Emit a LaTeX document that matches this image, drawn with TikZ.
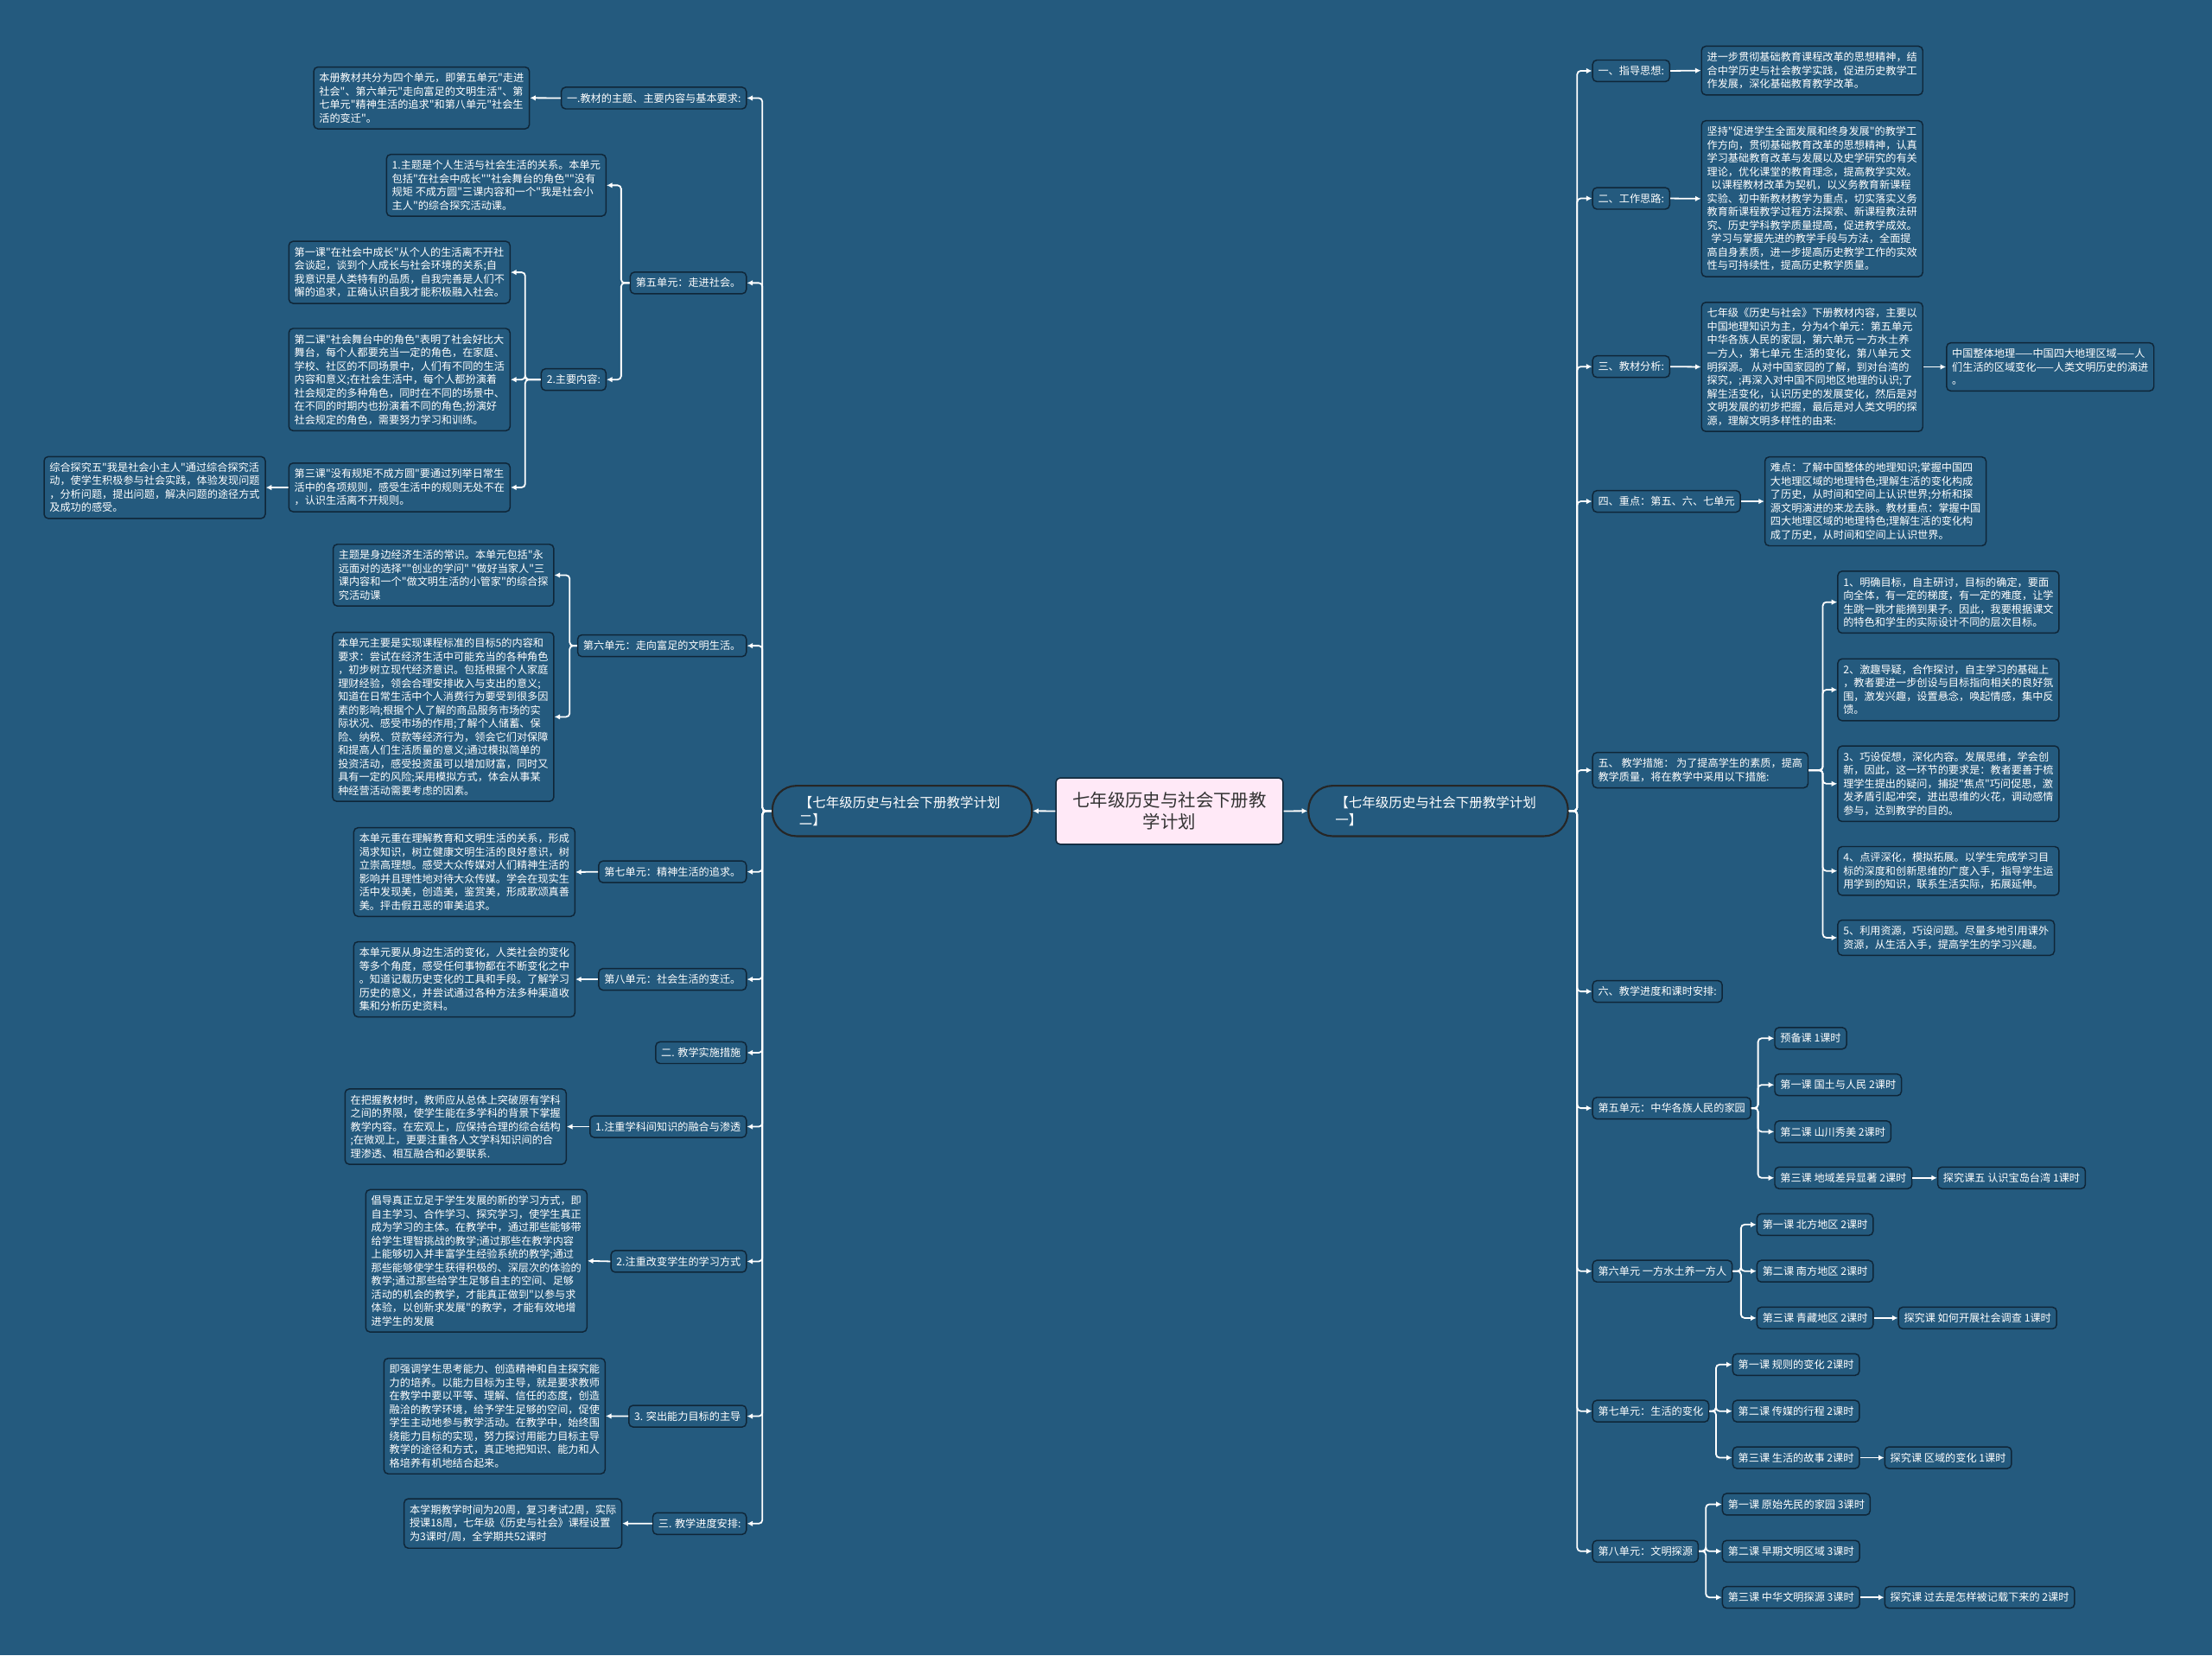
\documentclass[tikz,border=0pt]{standalone}
\usepackage{fontspec}
\newfontfamily\cjk{Noto Sans CJK SC}
\usetikzlibrary{arrows.meta}
\definecolor{bg}{HTML}{245A7E}
\definecolor{bdr}{HTML}{0F2638}
\definecolor{cpink}{HTML}{FFE9F7}
\definecolor{ctext}{HTML}{333333}
\begin{document}
\begin{tikzpicture}[x=1pt,y=1pt,
 box/.style={draw=bdr, line width=0.9pt, rounded corners=3pt, fill=bg, text=white,
   font=\cjk\fontsize{7.45}{9.5}\selectfont, align=left, inner xsep=3.9pt, inner ysep=4.2pt},
 lb/.style={box, anchor=east},
 rb/.style={box, anchor=west},
 mainbox/.style={draw=black!85, line width=1.3pt, rounded corners=17pt, fill=bg, text=white,
   font=\cjk\fontsize{9.5}{12.2}\selectfont, align=left, text width=146pt,
   minimum height=35.7pt, inner xsep=19pt},
 conn/.style={draw=white, line width=1.1pt, rounded corners=2.5pt},
 arr/.style={conn, -{Latex[length=4pt,width=4pt]}}]
\fill[bg] (0,0) rectangle (1568,-1173);
\useasboundingbox (0,0) rectangle (1568,-1173);

% ---------- centre ----------
\node[draw=bdr, line width=0.9pt, rounded corners=3pt, fill=cpink, text=ctext,
  font=\cjk\fontsize{12.5}{15.3}\selectfont, align=center, minimum width=161pt,
  minimum height=47pt, inner sep=2pt] (C) at (829,-574.8) {七年级历史与社会下册教\\学计划};
\node[mainbox] (LM) at (639.5,-574.7) {【七年级历史与社会下册教学计划\\二】};
\node[mainbox] (RM) at (1019.5,-574.7) {【七年级历史与社会下册教学计划\\一】};

% ---------- left side ----------
\node[lb] (A1) at (529.5,-69.5) {一.教材的主题、主要内容与基本要求:};
\node[lb] (A1c) at (375.7,-69.4) {本册教材共分为四个单元，即第五单元"走进\\社会"、第六单元"走向富足的文明生活"、第\\七单元"精神生活的追求"和第八单元"社会生\\活的变迁"。};
\node[lb] (A2) at (529.5,-200.5) {第五单元：走进社会。};
\node[lb] (A2a) at (430,-131.3) {1.主题是个人生活与社会生活的关系。本单元\\包括"在社会中成长""社会舞台的角色""没有\\规矩 不成方圆"三课内容和一个"我是社会小\\主人"的综合探究活动课。};
\node[lb] (A2b) at (430,-269) {2.主要内容:};
\node[lb] (A2b1) at (362,-193) {第一课"在社会中成长"从个人的生活离不开社\\会谈起，谈到个人成长与社会环境的关系;自\\我意识是人类特有的品质，自我完善是人们不\\懈的追求，正确认识自我才能积极融入社会。};
\node[lb] (A2b2) at (362,-269) {第二课"社会舞台中的角色"表明了社会好比大\\舞台，每个人都要充当一定的角色，在家庭、\\学校、社区的不同场景中，人们有不同的生活\\内容和意义;在社会生活中，每个人都扮演着\\社会规定的多种角色，同时在不同的场景中、\\在不同的时期内也扮演着不同的角色;扮演好\\社会规定的角色，需要努力学习和训练。};
\node[lb] (A2b3) at (362,-345.4) {第三课"没有规矩不成方圆"要通过列举日常生\\活中的各项规则，感受生活中的规则无处不在\\，认识生活离不开规则。};
\node[lb] (A2b3a) at (188.5,-345.5) {综合探究五"我是社会小主人"通过综合探究活\\动，使学生积极参与社会实践，体验发现问题\\，分析问题，提出问题，解决问题的途径方式\\及成功的感受。};
\node[lb] (A3) at (529.5,-457.6) {第六单元：走向富足的文明生活。};
\node[lb] (A3a) at (393,-407.6) {主题是身边经济生活的常识。本单元包括"永\\远面对的选择""创业的学问" "做好当家人"三\\课内容和一个"做文明生活的小管家"的综合探\\究活动课};
\node[lb] (A3b) at (393,-508) {本单元主要是实现课程标准的目标5的内容和\\要求：尝试在经济生活中可能充当的各种角色\\，初步树立现代经济意识。包括根据个人家庭\\理财经验，领会合理安排收入与支出的意义;\\知道在日常生活中个人消费行为要受到很多因\\素的影响;根据个人了解的商品服务市场的实\\际状况、感受市场的作用;了解个人储蓄、保\\险、纳税、贷款等经济行为，领会它们对保障\\和提高人们生活质量的意义;通过模拟简单的\\投资活动，感受投资虽可以增加财富，同时又\\具有一定的风险;采用模拟方式，体会从事某\\种经营活动需要考虑的因素。};
\node[lb] (A4) at (529.5,-617.8) {第七单元：精神生活的追求。};
\node[lb] (A4a) at (408,-618) {本单元重在理解教育和文明生活的关系，形成\\渴求知识，树立健康文明生活的良好意识，树\\立崇高理想。感受大众传媒对人们精神生活的\\影响并且理性地对待大众传媒。学会在现实生\\活中发现美，创造美，鉴赏美，形成歌颂真善\\美。抨击假丑恶的审美追求。};
\node[lb] (A5) at (529.5,-694) {第八单元：社会生活的变迁。};
\node[lb] (A5a) at (408,-694) {本单元要从身边生活的变化，人类社会的变化\\等多个角度，感受任何事物都在不断变化之中\\。知道记载历史变化的工具和手段。了解学习\\历史的意义，并尝试通过各种方法多种渠道收\\集和分析历史资料。};
\node[lb] (A6) at (529.5,-746) {二. 教学实施措施};
\node[lb] (A7) at (529.5,-798.4) {1.注重学科间知识的融合与渗透};
\node[lb] (A7a) at (401.8,-798.4) {在把握教材时，教师应从总体上突破原有学科\\之间的界限，使学生能在多学科的背景下掌握\\教学内容。在宏观上，应保持合理的综合结构\\;在微观上，更要注重各人文学科知识间的合\\理渗透、相互融合和必要联系.};
\node[lb] (A8) at (529.5,-893.9) {2.注重改变学生的学习方式};
\node[lb] (A8a) at (416.5,-893.5) {倡导真正立足于学生发展的新的学习方式，即\\自主学习、合作学习、探究学习，使学生真正\\成为学习的主体。在教学中，通过那些能够带\\给学生理智挑战的教学;通过那些在教学内容\\上能够切入并丰富学生经验系统的教学;通过\\那些能够使学生获得积极的、深层次的体验的\\教学;通过那些给学生足够自主的空间、足够\\活动的机会的教学，才能真正做到"以参与求\\体验，以创新求发展"的教学，才能有效地增\\进学生的发展};
\node[lb] (A9) at (529.5,-1003.6) {3. 突出能力目标的主导};
\node[lb] (A9a) at (429.4,-1003.5) {即强调学生思考能力、创造精神和自主探究能\\力的培养。以能力目标为主导，就是要求教师\\在教学中要以平等、理解、信任的态度，创造\\融洽的教学环境，给予学生足够的空间，促使\\学生主动地参与教学活动。在教学中，始终围\\绕能力目标的实现，努力探讨用能力目标主导\\教学的途径和方式，真正地把知识、能力和人\\格培养有机地结合起来。};
\node[lb] (A10) at (529.5,-1079.7) {三. 教学进度安排:};
\node[lb] (A10a) at (441.2,-1079.6) {本学期教学时间为20周，复习考试2周，实际\\授课18周，七年级《历史与社会》课程设置\\为3课时/周，全学期共52课时};

% ---------- right side ----------
\node[rb] (B1) at (1128.5,-50.2) {一、指导思想:};
\node[rb] (B1a) at (1205.7,-50) {进一步贯彻基础教育课程改革的思想精神，结\\合中学历史与社会教学实践，促进历史教学工\\作发展，深化基础教育教学改革。};
\node[rb] (B2) at (1128.5,-140.6) {二、工作思路:};
\node[rb] (B2a) at (1205.7,-140.8) {坚持"促进学生全面发展和终身发展"的教学工\\作方向，贯彻基础教育改革的思想精神，认真\\学习基础教育改革与发展以及史学研究的有关\\理论，优化课堂的教育理念，提高教学实效。\\\hspace*{0.4em}以课程教材改革为契机，以义务教育新课程\\实验、初中新教材教学为重点，切实落实义务\\教育新课程教学过程方法探索、新课程教法研\\究、历史学科教学质量提高，促进教学成效。\\\hspace*{0.4em}学习与掌握先进的教学手段与方法，全面提\\高自身素质，进一步提高历史教学工作的实效\\性与可持续性，提高历史教学质量。};
\node[rb] (B3) at (1128.5,-259.8) {三、教材分析:};
\node[rb] (B3a) at (1205.7,-260) {七年级《历史与社会》下册教材内容，主要以\\中国地理知识为主，分为4个单元：第五单元\\中华各族人民的家园，第六单元 一方水土养\\一方人，第七单元 生活的变化，第八单元 文\\明探源。 从对中国家园的了解，到对台湾的\\探究，;再深入对中国不同地区地理的认识;了\\解生活变化，认识历史的发展变化，然后是对\\文明发展的初步把握，最后是对人类文明的探\\源，理解文明多样性的由来:};
\node[rb] (B3b) at (1379.4,-260) {中国整体地理——中国四大地理区域——人\\们生活的区域变化——人类文明历史的演进\\。};
\node[rb] (B4) at (1128.5,-355.3) {四、重点：第五、六、七单元};
\node[rb] (B4a) at (1250.6,-355.3) {难点：了解中国整体的地理知识;掌握中国四\\大地理区域的地理特色;理解生活的变化构成\\了历史，从时间和空间上认识世界;分析和探\\源文明演进的来龙去脉。教材重点：掌握中国\\四大地理区域的地理特色;理解生活的变化构\\成了历史，从时间和空间上认识世界。};
\node[rb] (B5) at (1128.5,-545.8) {五、 教学措施： 为了提高学生的素质，提高\\教学质量，将在教学中采用以下措施:};
\node[rb] (B5a) at (1302.3,-426.7) {1、明确目标，自主研讨，目标的确定，要面\\向全体，有一定的梯度，有一定的难度，让学\\生跳一跳才能摘到果子。因此，我要根据课文\\的特色和学生的实际设计不同的层次目标。};
\node[rb] (B5b) at (1302.3,-488.8) {2、激趣导疑，合作探讨，自主学习的基础上\\，教者要进一步创设与目标指向相关的良好氛\\围，激发兴趣，设置悬念，唤起情感，集中反\\馈。};
\node[rb] (B5c) at (1302.3,-555.4) {3、巧设促想，深化内容。发展思维，学会创\\新，因此，这一环节的要求是：教者要善于梳\\理学生提出的疑问，捕捉"焦点"巧问促思，激\\发矛盾引起冲突，迸出思维的火花，调动感情\\参与，达到教学的目的。};
\node[rb] (B5d) at (1302.3,-617.2) {4、点评深化，模拟拓展。以学生完成学习目\\标的深度和创新思维的广度入手，指导学生运\\用学到的知识，联系生活实际，拓展延伸。};
\node[rb] (B5e) at (1302.3,-664.5) {5、利用资源，巧设问题。尽量多地引用课外\\资源，从生活入手，提高学生的学习兴趣。};
\node[rb] (B6) at (1128.5,-702.6) {六、教学进度和课时安排:};
\node[rb] (B7) at (1128.5,-785.3) {第五单元：中华各族人民的家园};
\node[rb] (B7a) at (1257.6,-735.8) {预备课 1课时};
\node[rb] (B7b) at (1257.6,-768.8) {第一课 国土与人民 2课时};
\node[rb] (B7c) at (1257.6,-802) {第二课 山川秀美 2课时};
\node[rb] (B7d) at (1257.6,-834.7) {第三课 地域差异显著 2课时};
\node[rb] (B7e) at (1373.1,-834.7) {探究课五 认识宝岛台湾 1课时};
\node[rb] (B8) at (1128.5,-900.8) {第六单元 一方水土养一方人};
\node[rb] (B8a) at (1245,-867.8) {第一课 北方地区 2课时};
\node[rb] (B8b) at (1245,-900.8) {第二课 南方地区 2课时};
\node[rb] (B8c) at (1245,-934) {第三课 青藏地区 2课时};
\node[rb] (B8d) at (1345.3,-934) {探究课 如何开展社会调查 1课时};
\node[rb] (B9) at (1128.5,-1000) {第七单元：生活的变化};
\node[rb] (B9a) at (1227.8,-967) {第一课 规则的变化 2课时};
\node[rb] (B9b) at (1227.8,-1000) {第二课 传媒的行程 2课时};
\node[rb] (B9c) at (1227.8,-1033) {第三课 生活的故事 2课时};
\node[rb] (B9d) at (1335.6,-1033) {探究课 区域的变化 1课时};
\node[rb] (B10) at (1128.5,-1099.3) {第八单元：文明探源};
\node[rb] (B10a) at (1220.5,-1066) {第一课 原始先民的家园 3课时};
\node[rb] (B10b) at (1220.5,-1099.3) {第二课 早期文明区域 3课时};
\node[rb] (B10c) at (1220.5,-1132) {第三课 中华文明探源 3课时};
\node[rb] (B10d) at (1335.6,-1132) {探究课 过去是怎样被记载下来的 2课时};

% ---------- junctions ----------
\coordinate (jL) at (540.4,-574.7);
\coordinate (jR) at (1118,-574.7);
\coordinate (jA2) at (440.3,-200.5);
\coordinate (jA2b) at (372.3,-269);
\coordinate (jA3) at (403.8,-457.6);
\coordinate (jB5) at (1292.1,-545.8);
\coordinate (jB7) at (1246.2,-785.3);
\coordinate (jB8) at (1234.1,-900.8);
\coordinate (jB9) at (1216.4,-1000);
\coordinate (jB10) at (1209.2,-1099.3);

% ---------- connectors ----------
\draw[arr] (C.west) -- (LM.east);
\draw[arr] (C.east) -- (RM.west);
\foreach \n in {A1,A2,A3,A4,A5,A6,A7,A8,A9,A10}
  \draw[arr] (LM.west) -- (jL) |- (\n.east);
\foreach \n in {B1,B2,B3,B4,B5,B6,B7,B8,B9,B10}
  \draw[arr] (RM.east) -- (jR) |- (\n.west);
\draw[arr] (A1.west) -- (A1c.east);
\foreach \n in {A2a,A2b} \draw[arr] (A2.west) -- (jA2) |- (\n.east);
\foreach \n in {A2b1,A2b2,A2b3} \draw[arr] (A2b.west) -- (jA2b) |- (\n.east);
\draw[arr] (A2b3.west) -- (A2b3a.east);
\foreach \n in {A3a,A3b} \draw[arr] (A3.west) -- (jA3) |- (\n.east);
\draw[arr] (A4.west) -- (A4a.east);
\draw[arr] (A5.west) -- (A5a.east);
\draw[arr] (A7.west) -- (A7a.east);
\draw[arr] (A8.west) -- (A8a.east);
\draw[arr] (A9.west) -- (A9a.east);
\draw[arr] (A10.west) -- (A10a.east);

\draw[arr] (B1.east) -- (B1a.west);
\draw[arr] (B2.east) -- (B2a.west);
\draw[arr] (B3.east) -- (B3a.west);
\draw[arr] (B3a.east) -- (B3b.west);
\draw[arr] (B4.east) -- (B4a.west);
\foreach \n in {B5a,B5b,B5c,B5d,B5e} \draw[arr] (B5.east) -- (jB5) |- (\n.west);
\foreach \n in {B7a,B7b,B7c,B7d} \draw[arr] (B7.east) -- (jB7) |- (\n.west);
\draw[arr] (B7d.east) -- (B7e.west);
\foreach \n in {B8a,B8b,B8c} \draw[arr] (B8.east) -- (jB8) |- (\n.west);
\draw[arr] (B8c.east) -- (B8d.west);
\foreach \n in {B9a,B9b,B9c} \draw[arr] (B9.east) -- (jB9) |- (\n.west);
\draw[arr] (B9c.east) -- (B9d.west);
\foreach \n in {B10a,B10b,B10c} \draw[arr] (B10.east) -- (jB10) |- (\n.west);
\draw[arr] (B10c.east) -- (B10d.west);
\end{tikzpicture}
\end{document}
